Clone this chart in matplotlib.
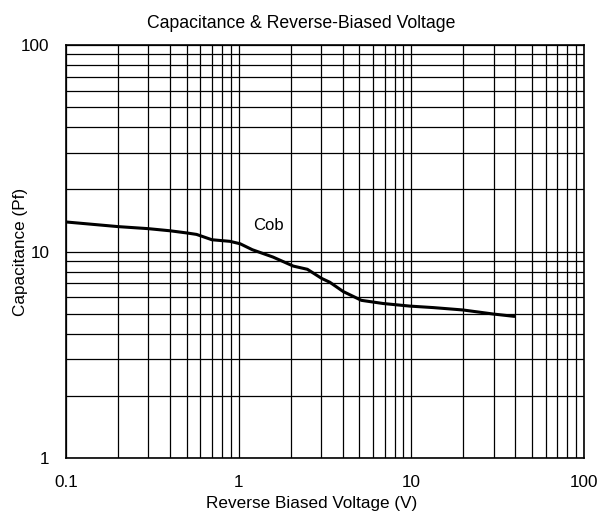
import matplotlib
matplotlib.use("Agg")
import matplotlib.pyplot as plt
from matplotlib.ticker import FixedLocator, NullFormatter

plt.rcParams["font.family"] = ["Liberation Sans", "DejaVu Sans"]

# curve (V, pF)
voltage = [0.1, 0.2, 0.3, 0.4, 0.5, 0.57, 0.7, 0.89, 1.02, 1.2, 1.58, 2.07,
           2.5, 3.03, 3.37, 4.03, 5.14, 6.86, 9.8, 13.4, 19.9, 29.8, 39.6]
capacitance = [13.9, 13.2, 12.9, 12.6, 12.3, 12.1, 11.4, 11.2, 10.9, 10.2, 9.4, 8.5,
               8.2, 7.4, 7.1, 6.4, 5.8, 5.6, 5.44, 5.35, 5.21, 4.98, 4.85]

x_ticks = [0.1, 1, 10, 100]
x_tick_labels = ["0.1", "1", "10", "100"]
y_ticks = [1, 10, 100]
y_tick_labels = ["1", "10", "100"]

fig = plt.figure(figsize=(6.01, 5.18), dpi=100)
ax = fig.add_axes([66 / 601, 1 - 458 / 518, 518 / 601, 413 / 518])

ax.plot(voltage, capacitance, color="black", lw=2.2, solid_capstyle="round")
ax.set_xscale("log")
ax.set_yscale("log")
ax.set_xlim(0.1, 100)
ax.set_ylim(1, 100)

ax.set_xticks(x_ticks)
ax.set_xticklabels(x_tick_labels)
ax.set_yticks(y_ticks)
ax.set_yticklabels(y_tick_labels)

minor_x = [m * d for d in (0.1, 1, 10) for m in range(2, 10)]
minor_y = [m * d for d in (1, 10) for m in range(2, 10)]
ax.xaxis.set_minor_locator(FixedLocator(minor_x))
ax.yaxis.set_minor_locator(FixedLocator(minor_y))
ax.xaxis.set_minor_formatter(NullFormatter())
ax.yaxis.set_minor_formatter(NullFormatter())

ax.grid(True, which="both", color="black", lw=0.9)
ax.tick_params(which="both", length=0, labelsize=12.3)
ax.tick_params(axis="x", pad=12)
ax.tick_params(axis="y", pad=12)
for s in ax.spines.values():
    s.set_linewidth(1.2)

ax.text(1.48, 13.3, "Cob", fontsize=12, ha="center", va="center")

# title and x label sit centred on the figure rather than the axes
ax.set_title("Capacitance & Reverse-Biased Voltage", fontsize=12.7, pad=12,
             x=(301 - 66) / 518)
ax.set_xlabel("Reverse Biased Voltage (V)", fontsize=12.3)
ax.xaxis.set_label_coords((312 - 66) / 518, -0.109)
ax.xaxis.label.set_va("center")
ax.set_ylabel("Capacitance (Pf)", fontsize=12.3)
ax.yaxis.set_label_coords(-0.073, 0.5)

fig.savefig("out.png", dpi=100)
